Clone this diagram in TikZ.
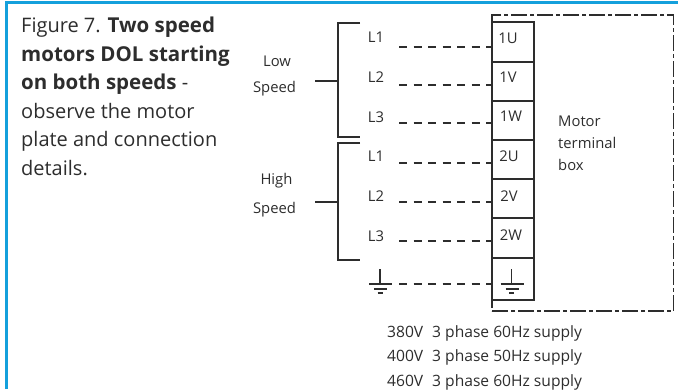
\documentclass[tikz,border=0pt]{standalone}
\usepackage{fontspec}
\setmainfont{Open Sans}
\usetikzlibrary{positioning}
\definecolor{framecyan}{RGB}{20,160,220}
\definecolor{inkgrey}{RGB}{45,45,45}
\newcommand{\capbold}[1]{{\fontsize{20.5}{28.5}\selectfont\bfseries #1}}
\tikzset{
    captiontext/.style={anchor=north west,inner sep=0pt,align=left,font=\fontsize{20}{28.5}\selectfont,text=inkgrey},
    wiretext/.style={inner sep=0pt,font=\fontsize{14.8}{19}\selectfont,text=inkgrey},
    termbox/.style={draw=inkgrey,line width=1.2pt,minimum width=42pt,inner sep=0pt},
    feedline/.style={draw=inkgrey,line width=1.2pt,dash pattern=on 8pt off 6.5pt},
    busline/.style={draw=inkgrey,line width=1.2pt},
    enclosure/.style={draw=inkgrey,line width=1.2pt,dash pattern=on 16pt off 3pt on 4pt off 3pt}
}
\begin{document}
\begin{tikzpicture}[x=1pt,y=-1pt]
    \useasboundingbox (0,0) rectangle (678,389);
    \draw [framecyan,line width=2.8pt] (6.3,389) -- (6.3,2.5) -- (678,2.5);

    \node [captiontext] (caption) at (21,17) {Figure 7. \capbold{Two speed}\\\capbold{motors DOL starting}\\\capbold{on both speeds} -\\observe the motor\\plate and connection\\details.};

    % terminal box
    \node [enclosure,minimum width=181.5pt,minimum height=296pt,inner sep=0pt] (encl) at (582.75,163) {};
    \node [termbox,minimum height=40pt] (t1U) at (513,42) {};
    \node [termbox,minimum height=39pt] (t1V) at (513,81.5) {};
    \node [termbox,minimum height=39pt] (t1W) at (513,120.5) {};
    \node [termbox,minimum height=39pt] (t2U) at (513,159.5) {};
    \node [termbox,minimum height=39pt] (t2V) at (513,198.5) {};
    \node [termbox,minimum height=40pt] (t2W) at (513,238) {};
    \node [termbox,minimum height=42pt] (tPE) at (513,279) {};

    \node [wiretext] (n1U) at (508,38) {1U};
    \node [wiretext] (n1V) at (508,77) {1V};
    \node [wiretext] (n1W) at (511,116) {1W};
    \node [wiretext] (n2U) at (509,156) {2U};
    \node [wiretext] (n2V) at (509,196) {2V};
    \node [wiretext] (n2W) at (511,235) {2W};
    \node [wiretext,align=left,anchor=north west,font=\fontsize{14.8}{22}\selectfont] (boxlabel) at (558,116) {Motor\\terminal\\box};

    % lines
    \node [wiretext] (L1a) at (376,37) {L1};
    \node [wiretext] (L2a) at (376,77) {L2};
    \node [wiretext] (L3a) at (376,117) {L3};
    \node [wiretext] (L1b) at (376,156) {L1};
    \node [wiretext] (L2b) at (376,196) {L2};
    \node [wiretext] (L3b) at (376,236) {L3};

    \coordinate (d1) at (399,47);
    \coordinate (d2) at (399,85);
    \coordinate (d3) at (399,123);
    \coordinate (d4) at (399,163);
    \coordinate (d5) at (399,202);
    \coordinate (d6) at (399,241);
    \coordinate (d7) at (399,284);
    \draw [feedline] (d1) -- (d1 -| t1U.west);
    \draw [feedline] (d2) -- (d2 -| t1V.west);
    \draw [feedline] (d3) -- (d3 -| t1W.west);
    \draw [feedline] (d4) -- (d4 -| t2U.west);
    \draw [feedline] (d5) -- (d5 -| t2V.west);
    \draw [feedline] (d6) -- (d6 -| t2W.west);
    \draw [feedline] (d7) -- (d7 -| tPE.west);

    % speed groups
    \node [wiretext] (low) at (277,61) {Low};
    \node [wiretext] (lowb) at (274.5,89) {Speed};
    \node [wiretext] (high) at (276.5,181) {High};
    \node [wiretext] (highb) at (274.5,210) {Speed};

    \coordinate (lowtop) at (360,23);
    \coordinate (lowbot) at (360,137);
    \coordinate (lowmid) at (338,81);
    \coordinate (lowstub) at (315,81);
    \coordinate (hightop) at (360,143);
    \coordinate (highbot) at (360,260);
    \coordinate (highmid) at (338,202);
    \coordinate (highstub) at (315,202);
    \draw [busline] (lowtop) -- (lowmid |- lowtop) -- (lowmid |- lowbot) -- (lowbot);
    \draw [busline] (lowstub) -- (lowmid);
    \draw [busline] (hightop) -- (highmid |- hightop) -- (highmid |- highbot) -- (highbot);
    \draw [busline] (highstub) -- (highmid);

    % earth symbols
    \coordinate (ea) at (380,284);
    \coordinate (eb) at (511.5,284);
    \draw [busline] (380,269) -- (ea);
    \draw [busline] (369,284) -- (392,284);
    \draw [busline] (374,289) -- (387,289);
    \draw [busline] (377.5,293) -- (382.5,293);
    \draw [busline] (511.5,269) -- (eb);
    \draw [busline] (500.5,284) -- (523.5,284);
    \draw [busline] (505.5,289) -- (518.5,289);
    \draw [busline] (509,293) -- (514,293);

    % supply
    \node [wiretext,align=left,anchor=north west,font=\fontsize{15.6}{24.7}\selectfont] (supply) at (387,325) {380V\hspace{9pt}3 phase 60Hz supply\\400V\hspace{9pt}3 phase 50Hz supply\\460V\hspace{9pt}3 phase 60Hz supply};
\end{tikzpicture}
\end{document}
